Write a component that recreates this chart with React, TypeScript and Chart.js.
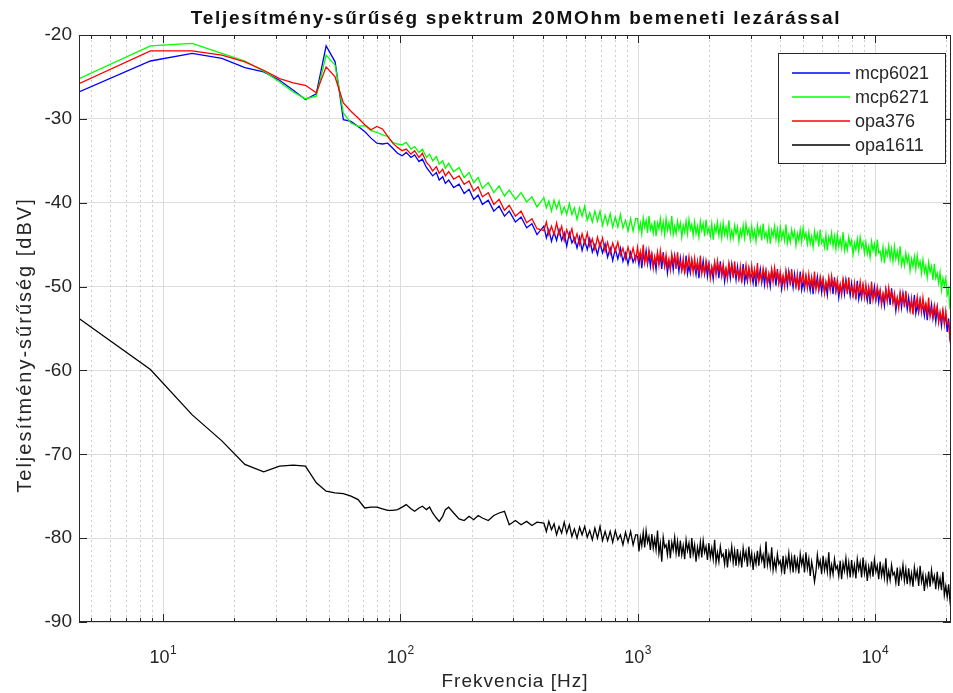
import React, { useEffect, useRef } from 'react';
import { Chart, registerables } from 'chart.js';

Chart.register(...registerables);

// ---------------- data ----------------
const FREQ = [
  // FFT bins below ~100 Hz
  4.43, 8.86, 13.29, 17.72, 22.15, 26.58, 31.01, 35.44, 39.87, 44.3, 48.73, 53.16, 57.59, 62.02, 66.45, 70.88, 75.31, 79.74, 84.17, 88.6, 93.03, 97.46, 101.89,
  // 100 Hz - 1 kHz
  106, 111, 115, 120, 124, 129, 133, 137, 142, 146, 151, 155, 160, 168, 177, 186, 195, 204, 213, 222, 235, 248, 261, 275, 288, 306, 323, 341, 359, 377,
  403, 413, 423, 434, 445, 456, 467, 479, 491, 503, 516, 529, 542, 556, 570, 584, 599, 614, 629, 645, 661, 678, 695, 712, 730, 748, 767, 786, 806, 826, 847, 868, 890, 912, 935, 958, 982,
  // 1 kHz - 21 kHz
  1000, 1014, 1028, 1042, 1057, 1072, 1087, 1102, 1117, 1133,
  1149, 1165, 1181, 1197, 1214, 1231, 1248, 1265, 1283, 1301,
  1319, 1337, 1356, 1375, 1394, 1414, 1434, 1454, 1474, 1494,
  1515, 1536, 1558, 1580, 1602, 1624, 1647, 1670, 1693, 1716,
  1740, 1764, 1789, 1814, 1840, 1865, 1891, 1917, 1944, 1971,
  1999, 2027, 2055, 2084, 2113, 2142, 2172, 2202, 2233, 2264,
  2296, 2328, 2360, 2393, 2427, 2461, 2495, 2530, 2565, 2601,
  2637, 2674, 2711, 2749, 2787, 2826, 2865, 2905, 2946, 2987,
  3028, 3070, 3113, 3157, 3201, 3245, 3291, 3337, 3383, 3430,
  3478, 3527, 3576, 3626, 3676, 3727, 3779, 3832, 3885, 3939,
  3994, 4050, 4106, 4164, 4222, 4281, 4340, 4401, 4462, 4524,
  4588, 4652, 4716, 4782, 4849, 4917, 4985, 5055, 5125, 5197,
  5269, 5342, 5417, 5492, 5569, 5647, 5725, 5805, 5886, 5968,
  6051, 6136, 6221, 6308, 6396, 6485, 6575, 6667, 6760, 6854,
  6950, 7047, 7145, 7245, 7346, 7448, 7552, 7657, 7764, 7872,
  7982, 8093, 8206, 8320, 8436, 8554, 8673, 8794, 8916, 9041,
  9167, 9295, 9424, 9556, 9689, 9824, 9961, 10100, 10240, 10383,
  10528, 10674, 10824, 10974, 11128, 11283, 11440, 11600, 11761, 11925,
  12092, 12260, 12431, 12604, 12780, 12958, 13139, 13322, 13508, 13696,
  13887, 14081, 14277, 14476, 14678, 14883, 15090, 15300, 15514, 15730,
  15949, 16172, 16397, 16626, 16858, 17093, 17331, 17572, 17818, 18066,
  18318, 18573, 18832, 19094, 19361, 19630, 19905, 20182, 20464, 20700,
  20940,
];

const MCP6021 = [
  -26.8, -23.1, -22.2, -22.8, -23.9, -24.4, -25.4, -26.6, -27.7, -27.0, -21.3, -23.2, -30.1, -30.3, -30.9, -31.5, -32.3, -32.9, -33.0, -32.9, -33.5, -34.1, -34.4,
  -34.0, -34.6, -34.3, -35.1, -34.8, -35.8, -36.3, -36.8, -36.4, -37.3, -36.9, -37.7, -37.3, -38.2, -37.8, -38.9, -38.4, -39.6, -39.1, -40.2, -39.7, -41.0, -40.4, -41.6, -41.0, -42.3, -41.7, -43.0, -42.5, -43.8,
  -42.8, -44.2, -43.2, -44.6, -43.5, -44.5, -43.2, -44.5, -43.6, -45.2, -43.6, -44.8, -44.2, -45.4, -44.1, -45.7, -44.5, -45.6, -44.3, -45.9, -45.0, -46.2, -44.8, -46.0, -44.9, -46.5, -45.4, -46.9, -45.5, -46.7, -45.4, -47.0, -46.0, -47.3, -45.9, -47.1, -46.3,
  -46.4, -47.4, -45.9, -47.8, -46.2, -46.9, -45.7, -47.3, -46.1, -47.6,
  -46.2, -47.6, -46.7, -48.0, -46.1, -47.2, -46.4, -47.9, -45.9, -47.5,
  -46.7, -48.4, -47.0, -47.8, -46.5, -48.0, -46.3, -47.5, -46.9, -48.2,
  -46.6, -48.0, -47.1, -48.2, -46.3, -48.5, -47.5, -48.4, -46.9, -47.9,
  -47.6, -48.6, -47.1, -49.0, -47.4, -48.1, -46.9, -48.5, -47.3, -48.8,
  -47.3, -48.7, -47.8, -49.1, -47.2, -48.3, -47.5, -49.0, -47.0, -48.6,
  -47.7, -49.4, -48.0, -48.8, -47.5, -49.0, -47.3, -48.5, -47.9, -49.2,
  -47.6, -49.0, -48.1, -49.2, -47.3, -49.5, -48.5, -49.4, -47.9, -48.9,
  -48.6, -49.6, -48.1, -50.0, -48.4, -49.1, -47.9, -49.5, -48.3, -49.8,
  -48.2, -49.6, -48.7, -50.0, -48.1, -49.2, -48.4, -49.9, -47.9, -49.5,
  -48.6, -50.3, -48.9, -49.7, -48.4, -49.9, -48.2, -49.4, -48.8, -50.1,
  -48.5, -49.9, -49.0, -50.1, -48.2, -50.4, -49.4, -50.3, -48.8, -49.8,
  -49.5, -50.5, -49.0, -50.9, -49.3, -50.0, -48.8, -50.4, -49.2, -50.7,
  -49.2, -50.6, -49.7, -51.0, -49.1, -50.2, -49.4, -50.9, -48.9, -50.5,
  -49.6, -51.3, -49.9, -50.7, -49.4, -50.9, -49.2, -50.4, -49.8, -51.1,
  -49.6, -51.0, -50.1, -51.2, -49.3, -51.5, -50.5, -51.4, -49.9, -50.9,
  -50.7, -51.7, -50.2, -52.1, -50.5, -51.2, -50.0, -51.6, -50.4, -51.9,
  -50.5, -51.9, -51.0, -52.3, -50.4, -51.5, -50.7, -52.2, -50.2, -51.8,
  -51.2, -52.9, -51.5, -52.3, -51.0, -52.5, -50.8, -52.0, -51.4, -52.7,
  -51.3, -52.7, -51.8, -52.9, -51.0, -53.2, -52.2, -53.1, -51.6, -52.6,
  -52.4, -53.5, -52.0, -54.0, -52.5, -53.3, -52.1, -53.8, -52.7, -54.2,
  -52.5, -54.0, -53.3, -54.7, -53.0, -54.2, -53.6, -55.4, -53.8, -56.0,
  -57.3,
];

const MCP6271 = [
  -25.2, -21.3, -21.0, -22.2, -23.1, -24.3, -25.6, -26.8, -27.6, -27.3, -22.4, -23.6, -29.3, -30.5, -30.9, -30.8, -31.4, -31.6, -31.9, -32.1, -32.8, -33.0, -33.1,
  -32.8, -33.6, -33.3, -34.0, -33.6, -34.6, -34.2, -35.0, -34.5, -35.4, -35.0, -35.9, -35.3, -36.3, -35.8, -37.0, -36.4, -37.6, -37.0, -38.3, -37.6, -38.8, -38.0, -39.2, -38.5, -39.6, -38.8, -39.9, -39.3, -40.5,
  -39.4, -40.6, -39.8, -41.0, -39.7, -40.7, -39.8, -41.3, -40.5, -41.4, -40.1, -41.4, -40.6, -42.0, -40.6, -41.6, -40.4, -42.1, -41.2, -42.3, -41.0, -42.2, -41.0, -42.7, -41.5, -42.6, -41.3, -42.9, -41.7, -42.9, -41.4, -43.0, -42.1, -43.4, -41.9, -43.4, -41.9,
  -41.9, -43.3, -42.4, -43.7, -41.8, -42.9, -42.1, -43.6, -41.6, -43.2,
  -42.6, -43.6, -42.1, -44.0, -42.4, -43.1, -41.9, -43.5, -42.3, -43.8,
  -41.9, -43.3, -42.4, -43.5, -41.6, -43.8, -42.8, -43.7, -42.2, -43.2,
  -42.4, -44.1, -42.7, -43.5, -42.2, -43.7, -42.0, -43.2, -42.6, -43.9,
  -42.3, -43.7, -42.8, -44.1, -42.2, -43.3, -42.5, -44.0, -42.0, -43.6,
  -43.0, -44.0, -42.5, -44.4, -42.8, -43.5, -42.3, -43.9, -42.7, -44.2,
  -42.4, -43.8, -42.9, -44.0, -42.1, -44.3, -43.3, -44.2, -42.7, -43.7,
  -42.9, -44.6, -43.2, -44.0, -42.7, -44.2, -42.5, -43.7, -43.1, -44.4,
  -42.8, -44.2, -43.3, -44.6, -42.7, -43.8, -43.0, -44.5, -42.5, -44.1,
  -43.5, -44.5, -43.0, -44.9, -43.3, -44.0, -42.8, -44.4, -43.2, -44.7,
  -42.9, -44.3, -43.4, -44.5, -42.6, -44.8, -43.8, -44.7, -43.2, -44.2,
  -43.4, -45.1, -43.7, -44.5, -43.2, -44.7, -43.0, -44.2, -43.6, -44.9,
  -43.5, -44.9, -44.0, -45.3, -43.4, -44.5, -43.7, -45.2, -43.2, -44.8,
  -44.3, -45.3, -43.8, -45.7, -44.1, -44.8, -43.6, -45.2, -44.0, -45.5,
  -43.8, -45.2, -44.3, -45.4, -43.5, -45.7, -44.7, -45.6, -44.1, -45.1,
  -44.5, -46.2, -44.8, -45.6, -44.3, -45.8, -44.1, -45.3, -44.7, -46.0,
  -44.7, -46.1, -45.2, -46.5, -44.6, -45.7, -44.9, -46.4, -44.4, -46.0,
  -45.8, -46.8, -45.3, -47.2, -45.6, -46.3, -45.1, -46.7, -45.5, -47.0,
  -45.2, -46.7, -45.8, -47.0, -45.2, -47.4, -46.5, -47.5, -46.0, -47.1,
  -46.3, -48.1, -46.7, -47.6, -46.4, -47.9, -46.3, -47.6, -47.0, -48.4,
  -46.8, -48.3, -47.5, -48.9, -47.1, -48.3, -47.6, -49.2, -47.3, -49.0,
  -48.4, -49.6, -48.3, -50.4, -49.0, -49.9, -49.0, -51.0, -50.3, -52.5,
  -53.0,
];

const OPA376 = [
  -25.8, -21.9, -21.9, -22.4, -23.2, -24.2, -25.2, -25.7, -26.0, -26.9, -23.8, -25.0, -28.1, -29.1, -29.9, -30.7, -31.3, -30.9, -31.2, -32.1, -32.9, -33.4, -33.8,
  -33.6, -34.2, -33.8, -34.6, -34.1, -35.2, -35.6, -36.2, -35.7, -36.5, -36.0, -36.8, -36.3, -37.2, -36.8, -37.8, -37.4, -38.6, -38.1, -39.3, -38.8, -40.2, -39.6, -40.9, -40.3, -41.6, -41.0, -42.4, -41.9, -43.1,
  -43.3, -42.3, -43.8, -42.8, -43.8, -42.4, -43.8, -42.8, -44.5, -43.2, -44.1, -43.1, -44.7, -43.7, -45.0, -43.7, -44.9, -43.6, -45.2, -44.3, -45.6, -44.1, -45.3, -44.2, -45.8, -44.7, -46.1, -44.8, -45.8, -44.7, -46.3, -45.4, -46.7, -45.3, -46.6, -45.4, -46.9,
  -45.3, -46.7, -45.8, -46.9, -45.0, -47.2, -46.2, -47.1, -45.6, -46.6,
  -46.1, -47.8, -46.4, -47.2, -45.9, -47.4, -45.7, -46.9, -46.3, -47.6,
  -46.2, -47.6, -46.7, -48.0, -46.1, -47.2, -46.4, -47.9, -45.9, -47.5,
  -47.1, -48.1, -46.6, -48.5, -46.9, -47.6, -46.4, -48.0, -46.8, -48.3,
  -46.6, -48.0, -47.1, -48.2, -46.3, -48.5, -47.5, -48.4, -46.9, -47.9,
  -47.3, -49.0, -47.6, -48.4, -47.1, -48.6, -46.9, -48.1, -47.5, -48.8,
  -47.3, -48.7, -47.8, -49.1, -47.2, -48.3, -47.5, -49.0, -47.0, -48.6,
  -48.1, -49.1, -47.6, -49.5, -47.9, -48.6, -47.4, -49.0, -47.8, -49.3,
  -47.5, -48.9, -48.0, -49.1, -47.2, -49.4, -48.4, -49.3, -47.8, -48.8,
  -48.1, -49.8, -48.4, -49.2, -47.9, -49.4, -47.7, -48.9, -48.3, -49.6,
  -48.2, -49.6, -48.7, -50.0, -48.1, -49.2, -48.4, -49.9, -47.9, -49.5,
  -49.0, -50.0, -48.5, -50.4, -48.8, -49.5, -48.3, -49.9, -48.7, -50.2,
  -48.5, -49.9, -49.0, -50.1, -48.2, -50.4, -49.4, -50.3, -48.8, -49.8,
  -49.1, -50.8, -49.4, -50.2, -48.9, -50.4, -48.7, -49.9, -49.3, -50.6,
  -49.2, -50.6, -49.7, -51.0, -49.1, -50.2, -49.4, -50.9, -48.9, -50.5,
  -50.1, -51.1, -49.6, -51.5, -49.9, -50.6, -49.4, -51.0, -49.8, -51.3,
  -49.7, -51.1, -50.2, -51.3, -49.4, -51.6, -50.6, -51.5, -50.0, -51.0,
  -50.5, -52.2, -50.8, -51.6, -50.3, -51.8, -50.1, -51.3, -50.7, -52.0,
  -50.8, -52.2, -51.3, -52.6, -50.7, -51.8, -51.0, -52.5, -50.5, -52.1,
  -51.9, -52.9, -51.4, -53.3, -51.7, -52.4, -51.2, -52.8, -51.6, -53.1,
  -51.3, -52.8, -52.0, -53.2, -51.3, -53.6, -52.7, -53.6, -52.2, -53.3,
  -52.4, -54.3, -53.0, -54.0, -52.8, -54.5, -52.9, -54.4, -54.2, -56.1,
  -57.0,
];

const OPA1611 = [
  -53.8, -59.9, -65.3, -68.4, -71.2, -72.1, -71.4, -71.3, -71.4, -73.4, -74.4, -74.6, -74.7, -75.0, -75.4, -76.4, -76.3, -76.3, -76.5, -76.7, -76.7, -76.6, -76.3,
  -76.0, -76.5, -76.8, -76.4, -76.2, -76.6, -76.3, -77.0, -77.6, -78.0, -77.4, -76.6, -76.3, -77.0, -77.7, -77.9, -77.4, -77.8, -77.3, -77.6, -77.9, -77.3, -77.0, -76.8, -78.4, -77.9, -78.4, -78.0, -78.5, -78.1,
  -78.2, -79.2, -78.0, -79.0, -78.3, -79.6, -78.6, -79.4, -78.1, -79.4, -78.4, -79.8, -78.9, -80.0, -78.7, -79.6, -78.6, -79.9, -79.1, -80.2, -78.8, -80.0, -78.6, -80.3, -79.2, -80.3, -79.2, -80.5, -79.1, -80.2, -79.6, -80.8, -79.3, -80.5, -79.2, -80.8, -79.6,
  -79.6, -81.6, -79.9, -80.9, -79.3, -81.1, -79.1, -80.5, -79.8, -81.4,
  -79.5, -81.2, -80.1, -81.4, -79.1, -81.8, -80.6, -82.8, -79.9, -81.1,
  -80.8, -82.0, -80.2, -82.4, -80.5, -81.4, -79.9, -81.8, -80.4, -82.2,
  -80.3, -82.0, -80.9, -82.5, -80.2, -81.5, -80.6, -82.4, -80.0, -81.9,
  -80.8, -82.8, -81.1, -82.1, -80.5, -82.3, -80.3, -81.7, -81.0, -82.6,
  -80.6, -82.3, -81.2, -82.5, -80.2, -82.9, -81.7, -82.8, -81.0, -82.2,
  -81.9, -83.1, -81.3, -83.5, -81.6, -82.5, -81.0, -82.9, -81.5, -83.3,
  -81.3, -83.0, -81.9, -83.5, -81.2, -82.5, -81.6, -83.4, -81.0, -82.9,
  -81.8, -83.8, -82.1, -83.1, -81.5, -83.3, -81.3, -82.7, -82.0, -83.6,
  -80.4, -83.2, -82.1, -83.4, -81.1, -83.8, -82.6, -83.7, -81.9, -83.1,
  -82.7, -83.9, -82.1, -84.3, -82.4, -83.3, -81.8, -83.7, -82.3, -84.1,
  -82.0, -83.7, -82.6, -84.2, -81.9, -83.2, -82.3, -84.1, -81.7, -83.6,
  -82.5, -84.5, -82.8, -83.8, -85.2, -84.0, -82.0, -83.4, -82.7, -84.3,
  -82.1, -83.8, -82.7, -84.0, -81.7, -84.4, -83.2, -84.3, -82.5, -83.7,
  -83.3, -84.5, -82.7, -84.9, -83.0, -83.9, -82.4, -84.3, -82.9, -84.7,
  -82.6, -84.3, -83.2, -84.8, -82.5, -83.8, -82.9, -84.7, -82.3, -84.2,
  -83.1, -85.1, -83.4, -84.4, -82.8, -84.6, -82.6, -84.0, -83.3, -84.9,
  -82.8, -84.5, -83.4, -84.7, -82.4, -85.1, -83.9, -85.0, -83.2, -84.4,
  -84.1, -85.3, -83.5, -85.7, -83.8, -84.7, -83.2, -85.1, -83.7, -85.5,
  -83.6, -85.3, -84.2, -85.8, -83.5, -84.8, -83.9, -85.7, -83.3, -85.2,
  -84.3, -86.3, -84.6, -85.6, -84.0, -85.8, -83.8, -85.2, -84.5, -86.1,
  -84.0, -85.8, -84.8, -86.2, -84.0, -86.8, -85.7, -87.0, -85.5, -87.3,
  -88.6,
];

const SERIES_LABELS = ['mcp6021', 'mcp6271', 'opa376', 'opa1611'];
const SERIES_COLORS = ['#0000ff', '#00ff00', '#ff0000', '#000000'];
const SERIES_VALUES = [MCP6021, MCP6271, OPA376, OPA1611];

const Y_MIN = -90;
const Y_MAX = -20;
const Y_STEP = 10;
const X_DECADES = [10, 100, 1000, 10000];
const X_EXPONENTS = ['1', '2', '3', '4'];
const X_MINOR = [5, 6, 7, 8, 9, 20, 30, 40, 50, 60, 70, 80, 90, 200, 300, 400, 500, 600, 700, 800, 900, 2000, 3000, 4000, 5000, 6000, 7000, 8000, 9000, 20000];

const TITLE = 'Teljesítmény-sűrűség spektrum 20MOhm bemeneti lezárással';
const X_LABEL = 'Frekvencia [Hz]';
const Y_LABEL = 'Teljesítmény-sűrűség [dBV]';

// ---------------- styling ----------------
const FONT = "'Liberation Sans', Arial, Helvetica, sans-serif";
const AXIS_COLOR = '#262626';

function drawText(ctx: any, s: string, x: number, y: number, font: string, align: string, baseline: string, spacing: number, color: string) {
  ctx.save();
  ctx.font = font;
  ctx.fillStyle = color;
  ctx.textAlign = align;
  ctx.textBaseline = baseline;
  try { ctx.letterSpacing = spacing + 'px'; } catch (e) { /* ignore */ }
  ctx.fillText(s, x, y);
  ctx.restore();
}

const decorPlugin = {
  id: 'matlabDecor',
  beforeDatasetsDraw(chart: any) {
    const { ctx, chartArea: a } = chart;
    const xs = chart.scales.x;
    ctx.save();
    ctx.beginPath();
    ctx.rect(a.left, a.top, a.right - a.left, a.bottom - a.top);
    ctx.clip();
    ctx.lineWidth = 1;
    ctx.strokeStyle = '#cdcdcd';
    ctx.setLineDash([2, 3]);
    for (const v of X_MINOR) {
      const px = Math.round(xs.getPixelForValue(v)) + 0.5;
      ctx.beginPath();
      ctx.moveTo(px, a.top);
      ctx.lineTo(px, a.bottom);
      ctx.stroke();
    }
    ctx.setLineDash([]);
    ctx.strokeStyle = '#dcdcdc';
    for (const v of X_DECADES) {
      const px = Math.round(xs.getPixelForValue(v)) + 0.5;
      ctx.beginPath();
      ctx.moveTo(px, a.top);
      ctx.lineTo(px, a.bottom);
      ctx.stroke();
    }
    ctx.restore();
  },
  afterDatasetsDraw(chart: any) {
    const { ctx, chartArea: a } = chart;
    const xs = chart.scales.x;
    const ys = chart.scales.y;
    ctx.save();
    ctx.setLineDash([]);
    ctx.strokeStyle = AXIS_COLOR;
    ctx.lineWidth = 1;
    const tick = (x1: number, y1: number, x2: number, y2: number) => {
      ctx.beginPath();
      ctx.moveTo(x1, y1);
      ctx.lineTo(x2, y2);
      ctx.stroke();
    };
    for (const v of X_DECADES) {
      const px = Math.round(xs.getPixelForValue(v)) + 0.5;
      tick(px, a.bottom, px, a.bottom - 8);
      tick(px, a.top, px, a.top + 8);
    }
    for (const v of X_MINOR) {
      const px = Math.round(xs.getPixelForValue(v)) + 0.5;
      tick(px, a.bottom, px, a.bottom - 4);
      tick(px, a.top, px, a.top + 4);
    }
    for (let v = Y_MIN; v <= Y_MAX; v += Y_STEP) {
      const py = Math.round(ys.getPixelForValue(v)) + 0.5;
      tick(a.left, py, a.left + 8, py);
      tick(a.right, py, a.right - 8, py);
    }
    ctx.strokeRect(Math.round(a.left) + 0.5, Math.round(a.top) + 0.5, Math.round(a.right - a.left) - 1, Math.round(a.bottom - a.top) - 1);
    ctx.restore();
  },
  afterDraw(chart: any) {
    const { ctx, chartArea: a } = chart;
    const xs = chart.scales.x;
    const cx = (a.left + a.right) / 2;

    // title
    drawText(ctx, TITLE, cx + 1, a.top - 11, `bold 19px ${FONT}`, 'center', 'alphabetic', 1.7, '#111111');

    // x tick labels 10^n
    X_DECADES.forEach((d, i) => {
      const px = xs.getPixelForValue(d);
      ctx.save();
      ctx.font = `18px ${FONT}`;
      const wBase = ctx.measureText('10').width;
      ctx.font = `12px ${FONT}`;
      const wExp = ctx.measureText(X_EXPONENTS[i]).width;
      ctx.restore();
      const left = px - (wBase + wExp) / 2;
      drawText(ctx, '10', left, a.bottom + 41, `18px ${FONT}`, 'left', 'alphabetic', 0, AXIS_COLOR);
      drawText(ctx, X_EXPONENTS[i], left + wBase + 0.5, a.bottom + 32, `12px ${FONT}`, 'left', 'alphabetic', 0, AXIS_COLOR);
    });

    // x axis title
    drawText(ctx, X_LABEL, cx, a.bottom + 65, `19px ${FONT}`, 'center', 'alphabetic', 1, AXIS_COLOR);

    // y axis title
    ctx.save();
    ctx.translate(31, 345);
    ctx.rotate(-Math.PI / 2);
    drawText(ctx, Y_LABEL, 0, 0, `20px ${FONT}`, 'center', 'alphabetic', 2, AXIS_COLOR);
    ctx.restore();

    // legend
    const lw = 167;
    const lh = 110;
    const lx = Math.round(a.right - 6 - lw);
    const ly = Math.round(a.top + 18);
    ctx.save();
    ctx.setLineDash([]);
    ctx.fillStyle = '#ffffff';
    ctx.fillRect(lx, ly, lw, lh);
    ctx.strokeStyle = AXIS_COLOR;
    ctx.lineWidth = 1;
    ctx.strokeRect(lx + 0.5, ly + 0.5, lw, lh);
    SERIES_LABELS.forEach((label, i) => {
      const y = ly + 20 + i * 24;
      ctx.save();
      ctx.strokeStyle = SERIES_COLORS[i];
      ctx.lineWidth = 1.3;
      ctx.beginPath();
      ctx.moveTo(lx + 14, y);
      ctx.lineTo(lx + 72, y);
      ctx.stroke();
      ctx.restore();
      drawText(ctx, label, lx + 77, y + 1, `18px ${FONT}`, 'left', 'middle', 0, AXIS_COLOR);
    });
    ctx.restore();
  },
};

export default function App() {
  const canvasRef = useRef<HTMLCanvasElement | null>(null);

  useEffect(() => {
    document.body.style.margin = '0';
    const canvas = canvasRef.current;
    if (!canvas) return;

    const datasets = SERIES_VALUES.map((vals, i) => ({
      label: SERIES_LABELS[i],
      data: FREQ.map((f, j) => ({ x: f, y: vals[j] })),
      borderColor: SERIES_COLORS[i],
      backgroundColor: SERIES_COLORS[i],
      borderWidth: 1.3,
      pointRadius: 0,
      pointHoverRadius: 0,
      fill: false,
      tension: 0,
      order: SERIES_VALUES.length - i,
    }));

    const chart = new Chart(canvas, {
      type: 'line',
      data: { datasets },
      plugins: [decorPlugin],
      options: {
        responsive: false,
        animation: false,
        devicePixelRatio: 1,
        events: [],
        layout: { padding: { top: 35, right: 2, left: 0, bottom: 0 } },
        plugins: {
          legend: { display: false },
          title: { display: false },
          tooltip: { enabled: false },
        },
        scales: {
          x: {
            type: 'logarithmic',
            min: FREQ[0],
            max: FREQ[FREQ.length - 1],
            ticks: { display: false },
            grid: { display: false },
            border: { display: false },
            afterFit: (s: any) => { s.height = 71; },
          },
          y: {
            type: 'linear',
            min: Y_MIN,
            max: Y_MAX,
            ticks: {
              stepSize: Y_STEP,
              padding: 7,
              color: AXIS_COLOR,
              font: { family: FONT, size: 19 },
            },
            grid: { color: '#dcdcdc', lineWidth: 1, drawTicks: false },
            border: { display: false },
            afterFit: (s: any) => { s.width = 79; },
          },
        },
      } as any,
    });

    return () => chart.destroy();
  }, []);

  return (
    <div style={{ width: 953, height: 693, background: '#ffffff' }}>
      <canvas ref={canvasRef} width={953} height={693} style={{ display: 'block' }} />
    </div>
  );
}
